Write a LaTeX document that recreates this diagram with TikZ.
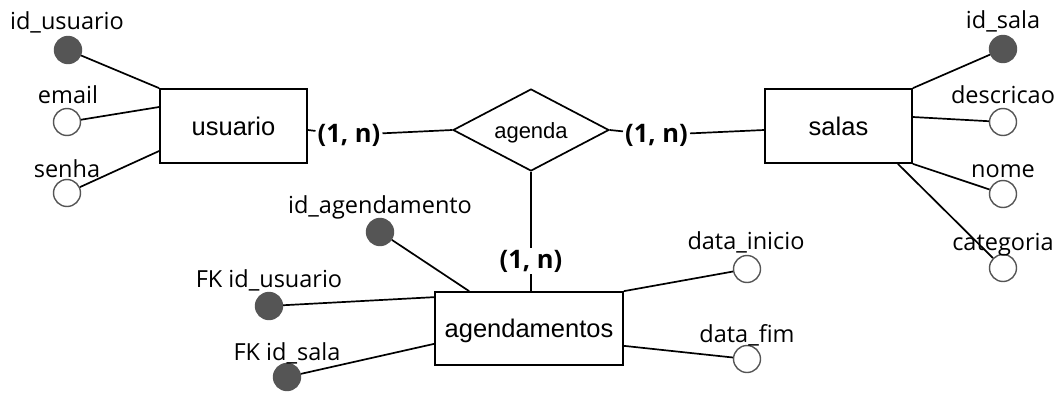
\documentclass[tikz,border=0pt]{standalone}
\usepackage{fontspec}
\usetikzlibrary{shapes.geometric}
\newfontfamily\attrfont{Open Sans}
\newfontfamily\entfont{Liberation Sans}
\definecolor{keyfill}{HTML}{555555}
\definecolor{ringcol}{HTML}{555555}
\tikzset{
  entity/.style={draw=black, line width=1.7pt, rectangle, inner sep=0pt,
    font=\entfont\fontsize{25.5}{28}\selectfont, text height=18pt, text depth=0pt},
  relbox/.style={draw=black, line width=1.7pt, diamond, shape aspect=2, inner sep=0pt,
    minimum width=156pt, minimum height=82pt,
    font=\entfont\fontsize{22}{26}\selectfont, text height=16pt, text depth=0pt},
  keyattr/.style={circle, fill=keyfill, draw=keyfill, line width=1.4pt, minimum size=27pt, inner sep=0pt},
  plainattr/.style={circle, fill=white, draw=ringcol, line width=1.4pt, minimum size=27pt, inner sep=0pt},
  attrlabel/.style={anchor=base, inner sep=0pt, font=\attrfont\fontsize{23.5}{27}\selectfont},
  cardlabel/.style={anchor=base, inner sep=2pt, font=\attrfont\bfseries\fontsize{25.5}{29}\selectfont},
  conn/.style={draw=black, line width=1.7pt},
}
\begin{document}
\begin{tikzpicture}[x=1pt, y=-1pt]
\useasboundingbox (0,0) rectangle (1061,394);

% entities and relationship
\node[entity, minimum width=147pt, minimum height=74pt] (usuario) at (233.5,126) {usuario};
\node[entity, minimum width=147pt, minimum height=74pt] (salas) at (838.5,126) {salas};
\node[entity, minimum width=188pt, minimum height=73pt] (agendamentos) at (529,328.5) {agendamentos};
\node[relbox] (agenda) at (531,130) {agenda};

% cardinality labels
\node[cardlabel] (c1) at (349,142) {(1, n)};
\node[cardlabel] (c2) at (656.5,142) {(1, n)};
\node[cardlabel] (c3) at (531,268) {(1, n)};

\draw[conn] (usuario.east |- agenda) -- (c1);
\draw[conn] (c1) -- (agenda.west);
\draw[conn] (agenda.east) -- (c2);
\draw[conn] (c2) -- (salas.west |- agenda);
\draw[conn] (agenda.south) -- (c3);
\draw[conn] (c3) -- (agendamentos.north -| c3);

% usuario attributes
\node[keyattr] (idu) at (68,50) {};
\node[plainattr] (email) at (67,122) {};
\node[plainattr] (senha) at (67,193) {};
\node[attrlabel] (lidu) at (67,29) {id\_usuario};
\node[attrlabel] (lemail) at (68,103) {email};
\node[attrlabel] (lsenha) at (67,177) {senha};
\draw[conn] (usuario.north west) -- (idu);
\draw[conn] ([yshift=19pt]usuario.west) -- (email);
\draw[conn] ([yshift=-25pt]usuario.west) -- (senha);

% salas attributes
\node[keyattr] (ids) at (1003,49) {};
\node[plainattr] (desc) at (1003,122) {};
\node[plainattr] (nome) at (1003,194) {};
\node[plainattr] (cat) at (1003,268) {};
\draw[conn] (salas.north east) -- (ids);
\draw[conn] ([yshift=9pt]salas.east) -- (desc);
\draw[conn] (salas.south east) -- (nome);
\draw[conn] ([xshift=-15pt]salas.south east) -- (cat);
\node[attrlabel] (lids) at (1003,28) {id\_sala};
\node[attrlabel] (ldesc) at (1003,103) {descricao};
\node[attrlabel] (lnome) at (1003,177) {nome};
\node[attrlabel] (lcat) at (1003,250) {categoria};

% agendamentos attributes
\node[keyattr] (idag) at (380,232) {};
\node[keyattr] (fku) at (269,306) {};
\node[keyattr] (fks) at (287,377) {};
\node[plainattr] (dini) at (747,269) {};
\node[plainattr] (dfim) at (747,359) {};
\node[attrlabel] (lidag) at (380,213) {id\_agendamento};
\node[attrlabel] (lfku) at (269,287) {FK id\_usuario};
\node[attrlabel] (lfks) at (287,360) {FK id\_sala};
\node[attrlabel] (ldini) at (746,249) {data\_inicio};
\node[attrlabel] (ldfim) at (747,342) {data\_fim};
\draw[conn] ([xshift=35pt]agendamentos.north west) -- (idag);
\draw[conn] ([yshift=-6pt]agendamentos.north west) -- (fku);
\draw[conn] ([yshift=22pt]agendamentos.south west) -- (fks);
\draw[conn] (agendamentos.north east) -- (dini);
\draw[conn] ([yshift=20pt]agendamentos.south east) -- (dfim);
\end{tikzpicture}
\end{document}
